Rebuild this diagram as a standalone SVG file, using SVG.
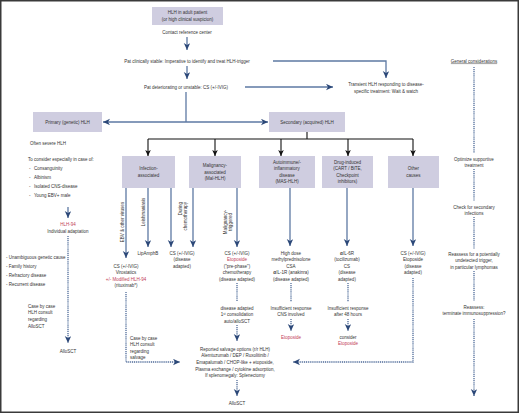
<svg xmlns="http://www.w3.org/2000/svg" width="520" height="414" viewBox="0 0 520 414">
<defs>
<style>
text{font-family:"Liberation Sans","DejaVu Sans",sans-serif;font-size:4.5px;fill:#333;}
.m{text-anchor:middle;}
.red{fill:#c23b57;}
.box{fill:#cfcde0;}
.ln{fill:none;stroke:#5d79a3;stroke-width:1.3;}
.dt{fill:none;stroke:#4f6b99;stroke-width:1.3;stroke-dasharray:1.1 0.8;}
.bk{fill:none;stroke:#111;stroke-width:1.1;}
</style>
<marker id="ah" markerUnits="userSpaceOnUse" markerWidth="8" markerHeight="8" refX="7" refY="3.2" orient="auto">
<path d="M0,0 L7,3.2 L0,6.4 L2,3.2 Z" fill="#2c4878"/>
</marker>
<marker id="bh" markerUnits="userSpaceOnUse" markerWidth="8" markerHeight="8" refX="6" refY="2.8" orient="auto">
<path d="M0,0 L6,2.8 L0,5.6 L1.6,2.8 Z" fill="#111"/>
</marker>
</defs>
<rect x="0" y="0" width="520" height="414" fill="#fff"/>
<rect x="0.75" y="0.75" width="517.5" height="411.5" fill="none" stroke="#3a3a3a" stroke-width="1.5"/>

<g id="connectors">
<path class="ln" d="M187,37 V50" marker-end="url(#ah)"/>
<path class="ln" d="M187,66 V79" marker-end="url(#ah)"/>
<path class="ln" d="M273,61 H386 V78" marker-end="url(#ah)"/>
<path class="ln" d="M245,87 H333" marker-end="url(#ah)"/>
<path class="ln" d="M186,92 V122"/>
<path class="ln" d="M186,122 H103" marker-end="url(#ah)"/>
<path class="ln" d="M186,122 H268" marker-end="url(#ah)"/>
<path class="bk" d="M307,132 V139 M148,139 H413"/>
<path class="bk" d="M148,139 V156" marker-end="url(#bh)"/>
<path class="bk" d="M215,139 V156" marker-end="url(#bh)"/>
<path class="bk" d="M281,139 V156" marker-end="url(#bh)"/>
<path class="bk" d="M348,139 V156" marker-end="url(#bh)"/>
<path class="bk" d="M413,139 V156" marker-end="url(#bh)"/>
<path class="ln" d="M126,188 V258" marker-end="url(#ah)"/>
<path class="ln" d="M148,188 V247" marker-end="url(#ah)"/>
<path class="ln" d="M171,188 V247" marker-end="url(#ah)"/>
<path class="ln" d="M193,188 V247" marker-end="url(#ah)"/>
<path class="ln" d="M237,188 V247" marker-end="url(#ah)"/>
<path class="ln" d="M290,188 V246" marker-end="url(#ah)"/>
<path class="ln" d="M347,188 V246" marker-end="url(#ah)"/>
<path class="ln" d="M413,188 V246" marker-end="url(#ah)"/>
<path class="ln" d="M68,207 V218" marker-end="url(#ah)"/>
<path class="dt" d="M68,236 V343" marker-end="url(#ah)"/>
<path class="dt" d="M126,292 V362 H180" marker-end="url(#ah)"/>
<path class="dt" d="M237,283 V301"/>
<path class="dt" d="M237,325 V341" marker-end="url(#ah)"/>
<path class="dt" d="M237,380 V396" marker-end="url(#ah)"/>
<path class="dt" d="M291,283 V302"/>
<path class="dt" d="M291,319 V331" marker-end="url(#ah)"/>
<path class="dt" d="M348,283 V302"/>
<path class="dt" d="M348,319 V331" marker-end="url(#ah)"/>
<path class="dt" d="M413,278 V362 H293" marker-end="url(#ah)"/>
<path class="dt" d="M474,67 V153 M474,169 V201 M474,217 V249 M474,271 V301"/>
<path class="dt" d="M474,319 V396" marker-end="url(#ah)"/>
</g>

<g id="n-start">
<rect class="box" x="152" y="7" width="71" height="18"/>
<text class="m" x="187.5" y="14.4">HLH in adult patient</text>
<text class="m" x="187.5" y="20.8">(or high clinical suspicion)</text>
</g>
<g id="n-contact"><text class="m" x="187" y="33.6">Contact reference center</text></g>
<g id="n-stable"><text class="m" x="187" y="62.6">Pat clinically stable: Imperative to identify and treat HLH-trigger</text></g>
<g id="n-unstable"><text class="m" x="186" y="88.6">Pat deteriorating or unstable: CS (+/-IVIG)</text></g>
<g id="n-transient">
<text class="m" x="386" y="85.6">Transient HLH responding to disease-</text>
<text class="m" x="386" y="92.6">specific treatment: Wait &amp; watch</text>
</g>
<g id="n-primary">
<rect class="box" x="33" y="112" width="69" height="20"/>
<text class="m" x="67.5" y="123.6">Primary (genetic) HLH</text>
</g>
<g id="n-secondary">
<rect class="box" x="269" y="112" width="76" height="20"/>
<text class="m" x="307" y="123.6">Secondary (acquired) HLH</text>
</g>

<g id="n-primary-notes">
<text x="30" y="144.6">Often severe HLH</text>
<text x="28" y="160.6">To consider especially in case of:</text>
<text x="29" y="169.6">-</text><text x="34" y="169.6">Consanguinity</text>
<text x="29" y="178.6">-</text><text x="34" y="178.6">Albinism</text>
<text x="29" y="187.6">-</text><text x="34" y="187.6">Isolated CNS-disease</text>
<text x="29" y="196.6">-</text><text x="34" y="196.6">Young EBV+ male</text>
</g>
<g id="n-hlh94">
<text class="m red" x="68" y="225.6">HLH-94</text>
<text class="m" x="68" y="232.6">Individual adaptation</text>
</g>
<g id="n-primary-criteria">
<text x="6" y="258.6">- Unambiguous genetic cause</text>
<text x="6" y="267.6">- Family history</text>
<text x="6" y="276.6">- Refractory disease</text>
<text x="6" y="285.6">- Recurrent disease</text>
</g>
<g id="n-primary-consult">
<text x="28" y="307.6">Case by case</text>
<text x="28" y="314.4">HLH consult</text>
<text x="28" y="321.2">regarding</text>
<text x="28" y="328">AlloSCT</text>
</g>
<g id="n-primary-allo"><text class="m" x="68" y="352.6">AlloSCT</text></g>

<g id="n-infection">
<rect class="box" x="122" y="156" width="53" height="32"/>
<text class="m" x="148.5" y="170.3">Infection-</text>
<text class="m" x="148.5" y="176.8">associated</text>
</g>
<g id="n-malignancy">
<rect class="box" x="189" y="156" width="52" height="32"/>
<text class="m" x="215" y="167">Malignancy-</text>
<text class="m" x="215" y="173.5">associated</text>
<text class="m" x="215" y="180">(Mal-HLH)</text>
</g>
<g id="n-autoimmune">
<rect class="box" x="259" y="156" width="56" height="32"/>
<text class="m" x="287" y="163.8">Autoimmune/-</text>
<text class="m" x="287" y="170.3">inflammatory</text>
<text class="m" x="287" y="176.8">disease</text>
<text class="m" x="287" y="183.3">(MAS-HLH)</text>
</g>
<g id="n-drug">
<rect class="box" x="322" y="156" width="51" height="32"/>
<text class="m" x="347.5" y="163.8">Drug-induced</text>
<text class="m" x="347.5" y="170.3">(CART / BiTE,</text>
<text class="m" x="347.5" y="176.8">Checkpoint</text>
<text class="m" x="347.5" y="183.3">inhibitors)</text>
</g>
<g id="n-other">
<rect class="box" x="388" y="156" width="51" height="32"/>
<text class="m" x="413.5" y="170.3">Other</text>
<text class="m" x="413.5" y="176.8">causes</text>
</g>

<g id="edge-labels">
<text class="m" transform="translate(123.6,222) rotate(-90)">EBV &amp; other viruses</text>
<text class="m" transform="translate(144.6,212) rotate(-90)">Leishmaniasis</text>
<text text-anchor="end" transform="translate(181.6,202) rotate(-90)">During</text>
<text text-anchor="end" transform="translate(187.2,202) rotate(-90)">chemotherapy</text>
<text class="m" transform="translate(226.6,222) rotate(-90)">Malignancy-</text>
<text class="m" transform="translate(232.2,222) rotate(-90)">triggered</text>
</g>

<g id="n-ebv">
<text class="m" x="126" y="267.6">CS (+/-IVIG)</text>
<text class="m" x="126" y="274.1">Virostatics</text>
<text class="m red" x="126" y="280.6">+/- Modified HLH-94</text>
<text class="m" x="126" y="287.1">(rituximab*)</text>
</g>
<g id="n-lipamphb"><text class="m" x="148" y="254.6">LipAmphB</text></g>
<g id="n-cs-infection">
<text class="m" x="182" y="254.6">CS (+/-IVIG)</text>
<text class="m" x="182" y="261.1">(disease</text>
<text class="m" x="182" y="267.6">adapted)</text>
</g>
<g id="n-mal-treat">
<text class="m" x="237" y="254.6">CS (+/-IVIG)</text>
<text class="m red" x="237" y="261.1">Etoposide</text>
<text class="m" x="237" y="267.6">("pre-phase")</text>
<text class="m" x="237" y="274.1">chemotherapy</text>
<text class="m" x="237" y="280.6">(disease adapted)</text>
</g>
<g id="n-consolidation">
<text class="m" x="237" y="309.6">disease adapted</text>
<text class="m" x="237" y="316.1">1<tspan font-size="3" dy="-1.5">st</tspan><tspan dy="1.5"> consolidation</tspan></text>
<text class="m" x="237" y="322.6">auto/alloSCT</text>
</g>
<g id="n-salvage-consult">
<text x="130" y="339.6">Case by case</text>
<text x="130" y="346.1">HLH consult</text>
<text x="130" y="352.6">regarding</text>
<text x="130" y="359.1">salvage</text>
</g>
<g id="n-salvage">
<text class="m" x="235" y="350.6">Reported salvage options (r/r HLH)</text>
<text class="m" x="235" y="357.3">Alemtuzumab / DEP / Ruxolitinib /</text>
<text class="m" x="235" y="364">Emapalumab / CHOP-like + etoposide,</text>
<text class="m" x="235" y="370.7">Plasma exchange / cytokine adsorption,</text>
<text class="m" x="235" y="377.4">If splenomegaly: Splenectomy</text>
</g>
<g id="n-allosct"><text class="m" x="237" y="404.6">AlloSCT</text></g>

<g id="n-auto-treat">
<text class="m" x="291" y="254.6">High dose</text>
<text class="m" x="291" y="261.1">methylprednisolone</text>
<text class="m" x="291" y="267.6">CSA</text>
<text class="m" x="291" y="274.1"><tspan font-weight="bold">α</tspan>IL-1R (anakinra)</text>
<text class="m" x="291" y="280.6">(disease adapted)</text>
</g>
<g id="n-auto-insuff">
<text class="m" x="291" y="309.6">Insufficient response</text>
<text class="m" x="291" y="316.1">CNS involved</text>
</g>
<g id="n-auto-etoposide"><text class="m red" x="291" y="338.6">Etoposide</text></g>

<g id="n-drug-treat">
<text class="m" x="347" y="254.6"><tspan font-weight="bold">α</tspan>IL-6R</text>
<text class="m" x="347" y="261.1">(tocilizumab)</text>
<text class="m" x="347" y="267.6">CS</text>
<text class="m" x="347" y="274.1">(disease</text>
<text class="m" x="347" y="280.6">adapted)</text>
</g>
<g id="n-drug-insuff">
<text class="m" x="348" y="309.6">Insufficient response</text>
<text class="m" x="348" y="316.1">after 48 hours</text>
</g>
<g id="n-drug-etoposide">
<text class="m" x="348" y="338.6">consider</text>
<text class="m red" x="348" y="345.1">Etoposide</text>
</g>

<g id="n-other-treat">
<text class="m" x="413" y="254.6">CS (+/-IVIG)</text>
<text class="m" x="413" y="261.1">Etoposide</text>
<text class="m" x="413" y="267.6">(disease</text>
<text class="m" x="413" y="274.1">adapted)</text>
</g>

<g id="n-general">
<text class="m" x="474" y="62.6" text-decoration="underline">General considerations</text>
</g>
<g id="n-supportive">
<text class="m" x="474" y="160.6">Optimize supportive</text>
<text class="m" x="474" y="166.9">treatment</text>
</g>
<g id="n-infections">
<text class="m" x="474" y="208.6">Check for secondary</text>
<text class="m" x="474" y="214.9">infections</text>
</g>
<g id="n-reassess-trigger">
<text class="m" x="474" y="255.6">Reassess for a potentially</text>
<text class="m" x="474" y="262.1">undetected trigger,</text>
<text class="m" x="474" y="268.6">in particular lymphomas</text>
</g>
<g id="n-reassess-immuno">
<text class="m" x="474" y="308.6">Reassess:</text>
<text class="m" x="474" y="315.4">terminate immunosuppression?</text>
</g>
</svg>
